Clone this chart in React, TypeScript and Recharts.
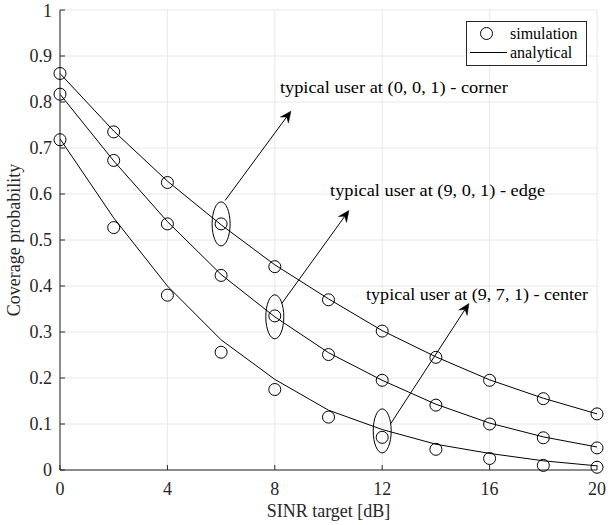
import React from 'react';
import {
    ComposedChart,
    Line,
    XAxis,
    YAxis,
    CartesianGrid,
    ReferenceDot,
    ReferenceLine,
} from 'recharts';

// SINR thresholds (dB)
const sinr = [0, 2, 4, 6, 8, 10, 12, 14, 16, 18, 20];

// corner user (0,0,1)
const simCorner = [0.862, 0.735, 0.625, 0.535, 0.442, 0.37, 0.302, 0.245, 0.195, 0.155, 0.122];
const anaCorner = [0.862, 0.737, 0.628, 0.533, 0.446, 0.372, 0.303, 0.246, 0.196, 0.156, 0.122];

// edge user (9,0,1)
const simEdge = [0.817, 0.673, 0.535, 0.423, 0.335, 0.251, 0.195, 0.141, 0.1, 0.07, 0.048];
const anaEdge = [0.817, 0.672, 0.54, 0.425, 0.333, 0.255, 0.195, 0.143, 0.102, 0.072, 0.05];

// center user (9,7,1)
const simCenter = [0.718, 0.527, 0.38, 0.256, 0.175, 0.115, 0.071, 0.045, 0.025, 0.01, 0.006];
const anaCenter = [0.72, 0.548, 0.4, 0.283, 0.197, 0.13, 0.088, 0.056, 0.036, 0.02, 0.009];

const xTicks = [0, 4, 8, 12, 16, 20];
const yTicks = [0, 0.1, 0.2, 0.3, 0.4, 0.5, 0.6, 0.7, 0.8, 0.9, 1];
const yTickLabels = ['0', '0.1', '0.2', '0.3', '0.4', '0.5', '0.6', '0.7', '0.8', '0.9', '1'];

// annotations: ellipse around a point, arrow, text
const userLabels = [
    'typical user at (0, 0, 1) - corner',
    'typical user at (9, 0, 1) - edge',
    'typical user at (9, 7, 1) - center',
];
const labelWidths = [228, 215, 222];
const ellipseAt = [
    { x: 6, y: 0.535 },
    { x: 8, y: 0.333 },
    { x: 12, y: 0.085 },
];
const arrowFrom = [
    { x: 6.15, y: 0.586 },
    { x: 8.26, y: 0.362 },
    { x: 12.32, y: 0.101 },
];
const arrowTo = [
    { x: 8.6, y: 0.78 },
    { x: 10.76, y: 0.564 },
    { x: 15.23, y: 0.362 },
];
const labelAt = [
    { x: 8.19, y: 0.828 },
    { x: 10.06, y: 0.604 },
    { x: 11.4, y: 0.377 },
];

const data = sinr.map((s, i) => ({
    sinr: s,
    simCorner: simCorner[i],
    anaCorner: anaCorner[i],
    simEdge: simEdge[i],
    anaEdge: anaEdge[i],
    simCenter: simCenter[i],
    anaCenter: anaCenter[i],
}));

const FONT = "'Liberation Serif', 'DejaVu Serif', serif";
const AXIS = '#262626';

const simDot = { r: 6, stroke: '#000', strokeWidth: 1, fill: 'none' };

const Arrow = (props: any) => {
    const { x1, y1, x2, y2 } = props;
    const dx = x2 - x1;
    const dy = y2 - y1;
    const len = Math.sqrt(dx * dx + dy * dy);
    const ux = dx / len;
    const uy = dy / len;
    const px = -uy;
    const py = ux;
    const L = 11;
    const W = 5;
    const bx = x2 - ux * L;
    const by = y2 - uy * L;
    const nx = x2 - ux * L * 0.65;
    const ny = y2 - uy * L * 0.65;
    const head = `${x2},${y2} ${bx + px * W},${by + py * W} ${nx},${ny} ${bx - px * W},${by - py * W}`;
    return (
        <g>
            <line x1={x1} y1={y1} x2={nx} y2={ny} stroke="#000" strokeWidth={1} />
            <polygon points={head} fill="#000" stroke="#000" strokeWidth={0.5} />
        </g>
    );
};

const Legend = () => (
    <svg
        width={122}
        height={46}
        style={{ position: 'absolute', left: 466, top: 21, fontFamily: FONT }}
    >
        <rect x={0.5} y={0.5} width={120} height={44} fill="#fff" stroke={AXIS} strokeWidth={1} />
        <circle cx={20.5} cy={12.5} r={6} fill="none" stroke="#000" strokeWidth={1} />
        <text x={44} y={18} style={{ fontFamily: FONT }} fontSize={16} fill="#000">simulation</text>
        <line x1={4} y1={31.5} x2={41} y2={31.5} stroke="#000" strokeWidth={1} />
        <text x={44} y={37} style={{ fontFamily: FONT }} fontSize={16} fill="#000">analytical</text>
    </svg>
);

export default function App() {
    return (
        <div style={{ position: 'relative', width: 608, height: 525, background: '#fff', fontFamily: FONT }}>
            <style>{'body { margin: 0; } .recharts-wrapper text { font-family: \'Liberation Serif\', \'DejaVu Serif\', serif; }'}</style>
            <ComposedChart
                width={608}
                height={525}
                data={data}
                margin={{ top: 10, right: 11, bottom: 0, left: 0 }}
            >
                <CartesianGrid stroke="#e8e8e8" strokeWidth={1} />
                <XAxis
                    dataKey="sinr"
                    type="number"
                    domain={[0, 20]}
                    ticks={xTicks}
                    height={55}
                    stroke={AXIS}
                    tickSize={-5}
                    tickMargin={17}
                    tick={{ fill: AXIS, fontSize: 18, fontFamily: FONT }}
                    label={({ viewBox }: any) => (
                        <text
                            x={viewBox.x + viewBox.width / 2}
                            y={viewBox.y + 47}
                            textAnchor="middle"
                            fontFamily={FONT}
                            fontSize={18}
                            fill={AXIS}
                        >
                            SINR target [dB]
                        </text>
                    )}
                />
                <XAxis
                    xAxisId="top"
                    orientation="top"
                    type="number"
                    domain={[0, 20]}
                    ticks={xTicks}
                    height={0}
                    stroke={AXIS}
                    tickSize={-5}
                    tick={false}
                />
                <YAxis
                    type="number"
                    domain={[0, 1]}
                    ticks={yTicks}
                    width={60}
                    stroke={AXIS}
                    tickSize={-5}
                    tickMargin={13}
                    tickFormatter={(v: number) => yTickLabels[yTicks.indexOf(v)] ?? String(v)}
                    tick={{ fill: AXIS, fontSize: 18, fontFamily: FONT }}
                    label={({ viewBox }: any) => {
                        const cx = viewBox.x + 16;
                        const cy = viewBox.y + viewBox.height / 2;
                        return (
                            <text
                                x={cx}
                                y={cy}
                                transform={`rotate(-90 ${cx} ${cy})`}
                                textAnchor="middle"
                                dominantBaseline="middle"
                                fontFamily={FONT}
                                fontSize={18}
                                fill={AXIS}
                            >
                                Coverage probability
                            </text>
                        );
                    }}
                />
                <YAxis
                    yAxisId="right"
                    orientation="right"
                    type="number"
                    domain={[0, 1]}
                    ticks={yTicks}
                    width={0}
                    stroke={AXIS}
                    tickSize={-5}
                    tick={false}
                />

                <Line type="linear" dataKey="anaCorner" stroke="#000" strokeWidth={1} dot={false} activeDot={false} isAnimationActive={false} />
                <Line type="linear" dataKey="anaEdge" stroke="#000" strokeWidth={1} dot={false} activeDot={false} isAnimationActive={false} />
                <Line type="linear" dataKey="anaCenter" stroke="#000" strokeWidth={1} dot={false} activeDot={false} isAnimationActive={false} />
                <Line type="linear" dataKey="simCorner" stroke="none" dot={simDot} activeDot={false} isAnimationActive={false} />
                <Line type="linear" dataKey="simEdge" stroke="none" dot={simDot} activeDot={false} isAnimationActive={false} />
                <Line type="linear" dataKey="simCenter" stroke="none" dot={simDot} activeDot={false} isAnimationActive={false} />

                {ellipseAt.map((p, i) => (
                    <ReferenceDot
                        key={`ell-${i}`}
                        x={p.x}
                        y={p.y}
                        shape={(s: any) => (
                            <ellipse cx={s.cx} cy={s.cy} rx={9} ry={22} fill="none" stroke="#000" strokeWidth={1} />
                        )}
                    />
                ))}
                {arrowFrom.map((p, i) => (
                    <ReferenceLine
                        key={`arr-${i}`}
                        segment={[p, arrowTo[i]]}
                        shape={Arrow}
                    />
                ))}
                {labelAt.map((p, i) => (
                    <ReferenceDot
                        key={`lab-${i}`}
                        x={p.x}
                        y={p.y}
                        shape={(s: any) => (
                            <text
                                x={s.cx}
                                y={s.cy}
                                dominantBaseline="middle"
                                fontFamily={FONT}
                                fontSize={16}
                                textLength={labelWidths[i]}
                                lengthAdjust="spacingAndGlyphs"
                                fill="#000"
                            >
                                {userLabels[i]}
                            </text>
                        )}
                    />
                ))}
            </ComposedChart>
            <Legend />
        </div>
    );
}
